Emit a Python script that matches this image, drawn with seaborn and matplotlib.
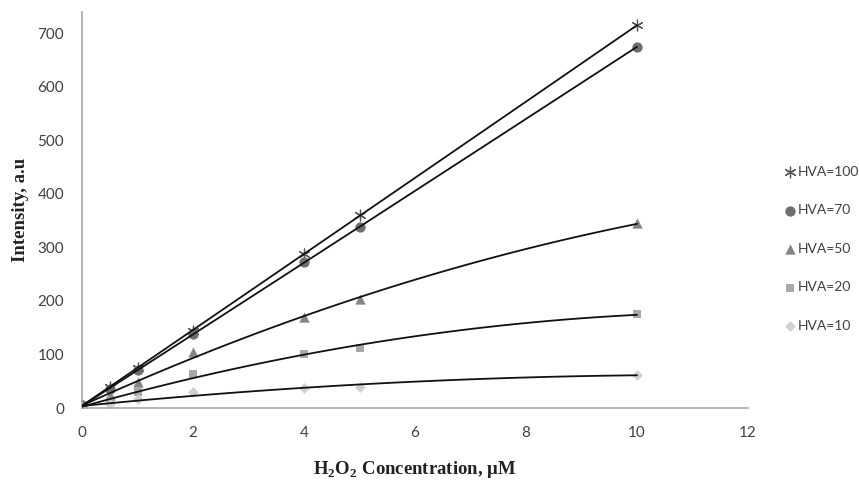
import numpy as np
import pandas as pd
import matplotlib
matplotlib.use("Agg")
import matplotlib.pyplot as plt
import seaborn as sns

# ---- data ----
conc = [0, 0.5, 1, 2, 4, 5, 10]
hva100 = [5, 40, 75, 144, 288, 360, 715]
hva70 = [5, 35, 71, 138, 272, 338, 675]
hva50 = [3, 25, 49, 104, 170, 203, 345]
hva20 = [1, 14, 30, 64, 100, 113, 175]
hva10 = [0, 8, 16, 29, 37, 40, 62]
series_labels = ["HVA=100", "HVA=70", "HVA=50", "HVA=20", "HVA=10"]
x_ticks = [0, 2, 4, 6, 8, 10, 12]
y_ticks = [0, 100, 200, 300, 400, 500, 600, 700]

sns.set_theme(style="white")
plt.rcParams["font.family"] = ["Lato", "DejaVu Sans"]
plt.rcParams["mathtext.fontset"] = "custom"
plt.rcParams["mathtext.rm"] = "Liberation Serif"
plt.rcParams["mathtext.bf"] = "Liberation Serif:bold"

rows = []
for lab, vals in zip(series_labels, [hva100, hva70, hva50, hva20, hva10]):
    for xv, yv in zip(conc, vals):
        rows.append({"conc": xv, "intensity": yv, "series": lab})
df = pd.DataFrame(rows)

fig = plt.figure(figsize=(8.59, 4.82), dpi=100)
ax = fig.add_axes([82 / 859, 1 - 408 / 482, (748 - 82) / 859, (408 - 12) / 482])

styles = {
    "HVA=100": dict(marker=(6, 2, 0), color="#555555", s=60, lw=0.9),
    "HVA=70": dict(marker="o", color="#6e6e6e", s=55, lw=0),
    "HVA=50": dict(marker="^", color="#858585", s=55, lw=0),
    "HVA=20": dict(marker="s", color="#a8a8a8", s=35, lw=0),
    "HVA=10": dict(marker="D", color="#d0d0d0", s=30, lw=0),
}

for lab in series_labels:
    sub = df[df["series"] == lab]
    st = styles[lab]
    sns.scatterplot(data=sub, x="conc", y="intensity", ax=ax, marker=st["marker"],
                    color=st["color"], s=st["s"], linewidth=st["lw"],
                    edgecolor=st["color"], label=lab, zorder=2)
    sns.regplot(data=sub, x="conc", y="intensity", ax=ax, order=2, ci=None,
                scatter=False, line_kws=dict(color="#111111", lw=1.3, zorder=3))

ax.set_xlim(0, 12)
ax.set_ylim(0, 740)
ax.set_xticks(x_ticks)
ax.set_yticks(y_ticks)
ax.tick_params(axis="both", which="both", direction="out", length=5, width=1,
               color="#a0a0a0", labelsize=11, labelcolor="#404040", pad=8)
for side in ["top", "right"]:
    ax.spines[side].set_visible(False)
for side in ["left", "bottom"]:
    ax.spines[side].set_color("#a8a8a8")
    ax.spines[side].set_linewidth(1.2)

ax.set_xlabel("H$_\\mathbf{2}$O$_\\mathbf{2}$ Concentration, \u03bcM",
              fontfamily=["Liberation Serif", "DejaVu Serif"], fontweight="bold",
              fontsize=13.5, color="#222222", labelpad=14)
ax.set_ylabel("Intensity, a.u", fontfamily=["Liberation Serif", "DejaVu Serif"],
              fontweight="bold", fontsize=13.5, color="#222222", labelpad=6)

leg = ax.legend(loc="upper left", bbox_to_anchor=(1.045, 0.625), frameon=False,
                fontsize=10, labelspacing=1.9, handletextpad=0.0,
                borderaxespad=0, handlelength=1.0)
for t in leg.get_texts():
    t.set_color("#404040")

fig.savefig("out.png", dpi=100)
